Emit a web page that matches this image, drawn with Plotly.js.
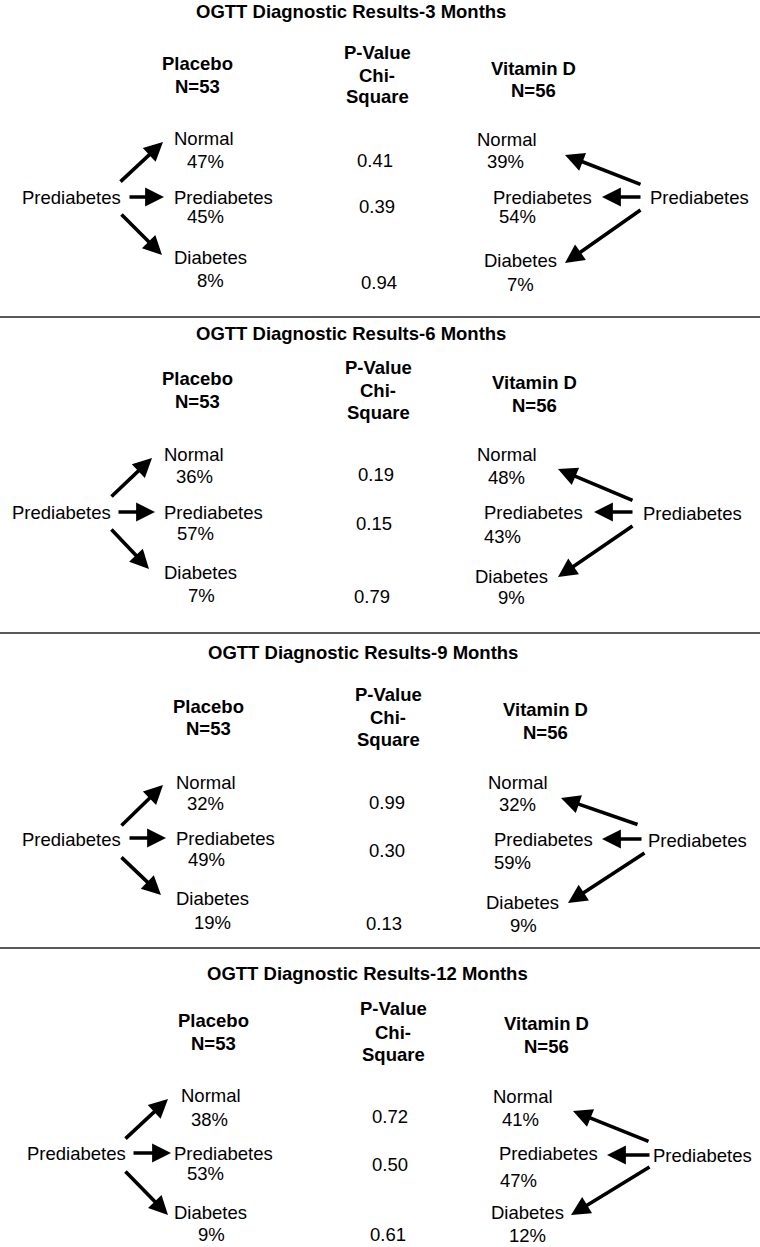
<!DOCTYPE html>
<html>
<head>
<meta charset="utf-8">
<script src="https://cdn.plot.ly/plotly-3.0.1.min.js"></script>
<style>html,body{margin:0;padding:0;background:#fff;}#chart{width:760px;height:1247px;}</style>
</head>
<body>
<div id="chart"></div>
<script>
// ---- data ----
const panelTitles = ["OGTT Diagnostic Results-3 Months","OGTT Diagnostic Results-6 Months","OGTT Diagnostic Results-9 Months","OGTT Diagnostic Results-12 Months"];
const groupPlacebo = ["Placebo","N=53"];
const groupVitaminD = ["Vitamin D","N=56"];
const pHeader = ["P-Value","Chi-","Square"];
const baseline = "Prediabetes";
const outcomes = ["Normal","Prediabetes","Diabetes"];
const placeboPct = [[47,45,8],[36,57,7],[32,49,19],[38,53,9]];
const vitaminDPct = [[39,54,7],[48,43,9],[32,59,9],[41,47,12]];
const pValues = [[0.41,0.39,0.94],[0.19,0.15,0.79],[0.99,0.30,0.13],[0.72,0.50,0.61]];
const separatorsY = [317,633,948];

// ---- layout geometry (positions only) ----
const G = [
 { title:[351,11], pl:[197,63,86], pv:[377,52,75,96], vd:[533,68,90],
   lPre:[71,197], rPre:[699,197],
   plLab:[[173,138],[173,197],[173,257]], plPct:[[205,161],[205,216],[210,280]],
   pvPos:[[375,160],[377,206],[379,282]],
   vdLab:[[476,139],[492,197],[483,260]], vdPct:[[505,161],[517,216],[520,284]],
   lArr:[[119,183,163,142],[128,197,164,197],[120,213,162,255]],
   rArr:[[642,185,565,155],[642,197,602,197],[642,209,565,263]] },
 { title:[351,333], pl:[197,378,401], pv:[378,367,390,412], vd:[534,382,405],
   lPre:[61,512], rPre:[692,513],
   plLab:[[163,454],[163,512],[163,572]], plPct:[[194,476],[195,533],[201,595]],
   pvPos:[[376,474],[374,523],[372,596]],
   vdLab:[[476,454],[483,512],[474,576]], vdPct:[[506,477],[502,536],[511,597]],
   lArr:[[110,498,152,458],[117,512,155,512],[110,528,149,569]],
   rArr:[[634,501,558,469],[634,512,594,512],[634,525,558,577]] },
 { title:[363,652], pl:[208,706,728], pv:[388,694,717,739], vd:[545,709,732],
   lPre:[71,839], rPre:[697,840],
   plLab:[[175,782],[175,838],[175,898]], plPct:[[205,803],[206,859],[212,922]],
   pvPos:[[387,802],[387,850],[384,923]],
   vdLab:[[487,782],[493,839],[485,902]], vdPct:[[517,804],[512,862],[523,925]],
   lArr:[[120,827,163,785],[128,838,166,838],[120,856,161,895]],
   rArr:[[639,825,561,798],[643,839,602,839],[646,852,568,903]] },
 { title:[367,973], pl:[213,1020,1043], pv:[393,1008,1032,1054], vd:[546,1023,1046],
   lPre:[76,1153], rPre:[702,1155],
   plLab:[[180,1095],[173,1153],[173,1212]], plPct:[[209,1119],[205,1173],[211,1234]],
   pvPos:[[390,1116],[390,1164],[388,1234]],
   vdLab:[[492,1096],[498,1153],[490,1212]], vdPct:[[520,1119],[518,1180],[527,1235]],
   lArr:[[124,1140,168,1099],[132,1153,171,1153],[124,1170,168,1215]],
   rArr:[[650,1142,573,1111],[651,1155,607,1155],[651,1166,571,1215]] }
];

const FONT = '"Liberation Sans", Arial, Helvetica, sans-serif';
const FS = 18.5;
const ann = [];
function txt(x, y, t, opts) {
  ann.push(Object.assign({x:x, y:y, xref:'x', yref:'y', text:t, showarrow:false, borderpad:0,
    xanchor:'center', yanchor:'middle', font:{family:FONT, size:FS, color:'#000'}}, opts||{}));
}
function arrow(a) {
  ann.push({x:a[2], y:a[3], ax:a[0], ay:a[1], xref:'x', yref:'y', axref:'x', ayref:'y',
    text:'', showarrow:true, arrowhead:2, arrowsize:1.05, arrowwidth:3.6, arrowcolor:'#000', standoff:0, startstandoff:0});
}

panelTitles.forEach((title, p) => {
  const g = G[p];
  txt(g.title[0], g.title[1], '<b>' + title + '</b>');
  txt(g.pl[0], g.pl[1], '<b>' + groupPlacebo[0] + '</b>');
  txt(g.pl[0], g.pl[2], '<b>' + groupPlacebo[1] + '</b>');
  pHeader.forEach((h, i) => txt(g.pv[0], g.pv[i+1], '<b>' + h + '</b>'));
  txt(g.vd[0], g.vd[1], '<b>' + groupVitaminD[0] + '</b>');
  txt(g.vd[0], g.vd[2], '<b>' + groupVitaminD[1] + '</b>');
  txt(g.lPre[0], g.lPre[1], baseline);
  txt(g.rPre[0], g.rPre[1], baseline);
  outcomes.forEach((o, i) => {
    txt(g.plLab[i][0], g.plLab[i][1], o, {xanchor:'left'});
    txt(g.plPct[i][0], g.plPct[i][1], placeboPct[p][i] + '%');
    txt(g.pvPos[i][0], g.pvPos[i][1], pValues[p][i].toFixed(2));
    txt(g.vdLab[i][0], g.vdLab[i][1], o, {xanchor:'left'});
    txt(g.vdPct[i][0], g.vdPct[i][1], vitaminDPct[p][i] + '%');
    arrow(g.lArr[i]);
    arrow(g.rArr[i]);
  });
});

const shapes = separatorsY.map(y => ({type:'line', xref:'x', yref:'y', x0:0, x1:760, y0:y, y1:y,
  line:{color:'#222', width:1.5}}));

const layout = {
  width:760, height:1247, margin:{l:0,r:0,t:0,b:0},
  paper_bgcolor:'#fff', plot_bgcolor:'#fff', showlegend:false,
  xaxis:{range:[0,760], visible:false, fixedrange:true},
  yaxis:{range:[1247,0], visible:false, fixedrange:true},
  annotations:ann, shapes:shapes
};
Plotly.newPlot('chart', [{x:[], y:[], type:'scatter', hoverinfo:'skip'}], layout, {staticPlot:true, displayModeBar:false});
</script>
</body>
</html>
